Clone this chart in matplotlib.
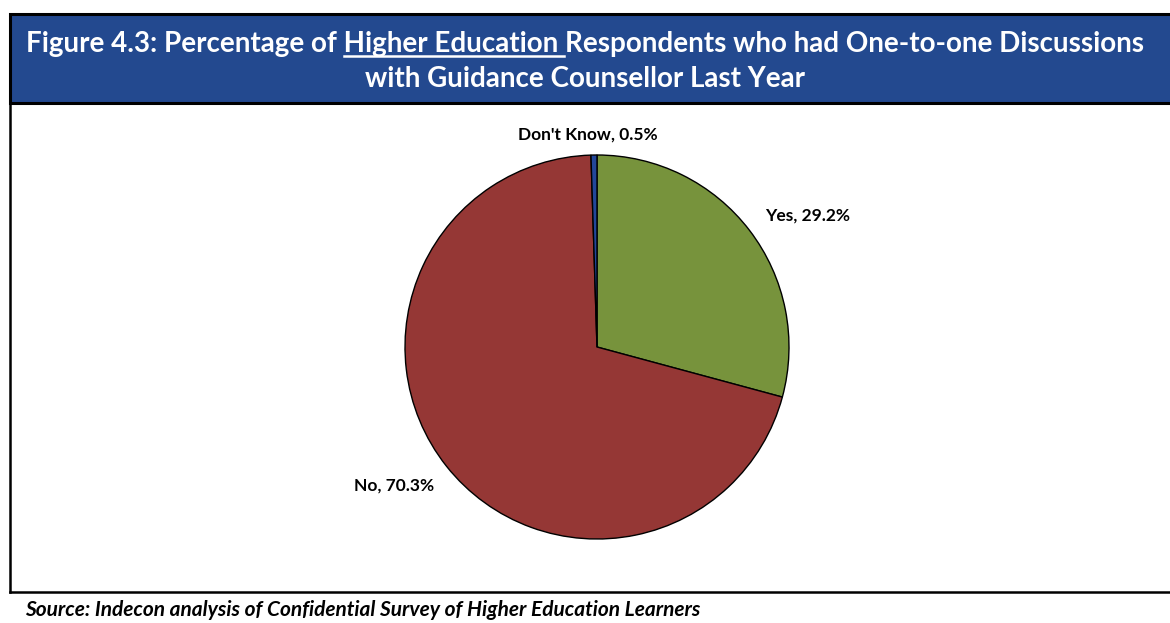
"""Pie chart: higher education respondents with one-to-one guidance discussions."""

import matplotlib.pyplot as plt
from matplotlib.patches import Rectangle
from matplotlib.lines import Line2D
import numpy as np

categories = ["Yes", "No", "Don't Know"]
shares = [29.2, 70.3, 0.5]
colors = ["#77933C", "#953735", "#23479A"]

title_pre = "Figure 4.3: Percentage of "
title_ul = "Higher Education "
title_post = "Respondents who had One-to-one Discussions"
title_line2 = "with Guidance Counsellor Last Year"
source = "Source: Indecon analysis of Confidential Survey of Higher Education Learners"

W, H = 1170, 623
TITLE_SIZE = 20
plt.rcParams["font.family"] = ["Lato", "DejaVu Sans"]

fig = plt.figure(figsize=(W / 100, H / 100), dpi=100, facecolor="white")


def fx(px):
    return px / W


def fy(py):
    return 1 - py / H


# header band and chart frame
fig.patches.append(Rectangle((fx(10), fy(103)), fx(1175 - 10), (103 - 14) / H,
                             transform=fig.transFigure, facecolor="#23498F",
                             edgecolor="black", linewidth=2.2, zorder=0))
fig.add_artist(Line2D([fx(10), fx(10)], [fy(103), fy(592)], color="black", linewidth=1.8))
fig.add_artist(Line2D([fx(10), fx(1170)], [fy(592), fy(592)], color="black", linewidth=1.8))

title_kw = dict(color="white", fontsize=TITLE_SIZE, fontweight="bold", va="center", ha="center")
line1 = fig.text(0.5, fy(44), title_pre + title_ul + title_post, **title_kw)
fig.text(0.5, fy(79), title_line2, **title_kw)

# underline the "Higher Education" part of the first title line
fig.canvas.draw()
renderer = fig.canvas.get_renderer()
full = line1.get_window_extent(renderer)


def text_width(s):
    t = fig.text(0, 0, s, color="white", fontsize=TITLE_SIZE, fontweight="bold")
    w = t.get_window_extent(renderer).width
    t.remove()
    return w


x0 = full.x0 + text_width(title_pre)
x1 = full.x0 + text_width(title_pre + title_ul.rstrip()) + text_width(" ") * 0.9
fig.add_artist(Line2D([x0 / W, x1 / W], [fy(56), fy(56)], color="white", linewidth=1.8))

fig.text(fx(25), fy(610), source, fontsize=15, fontweight="bold", style="italic",
         va="center", ha="left", color="black")

# pie
cx, cy, r = 597, 347, 192
ax = fig.add_axes([fx(cx - r), fy(cy + r), 2 * r / W, 2 * r / H])
wedges, _ = ax.pie(shares, colors=colors, startangle=90, counterclock=False,
                   wedgeprops=dict(edgecolor="black", linewidth=1.0))
ax.set_xlim(-1, 1)
ax.set_ylim(-1, 1)
ax.set_aspect("auto")
ax.axis("off")

label_dist = [1.29, 1.28, 1.11]
angle_shift = [-5.5, -4, 1.5]
for w, cat, val, d, da in zip(wedges, categories, shares, label_dist, angle_shift):
    mid = np.deg2rad((w.theta1 + w.theta2) / 2 + da)
    ax.text(d * np.cos(mid), d * np.sin(mid), f"{cat}, {val}%", fontsize=12.5,
            fontweight="bold", ha="center", va="center", clip_on=False)

fig.savefig("out.png", dpi=100, facecolor="white")
